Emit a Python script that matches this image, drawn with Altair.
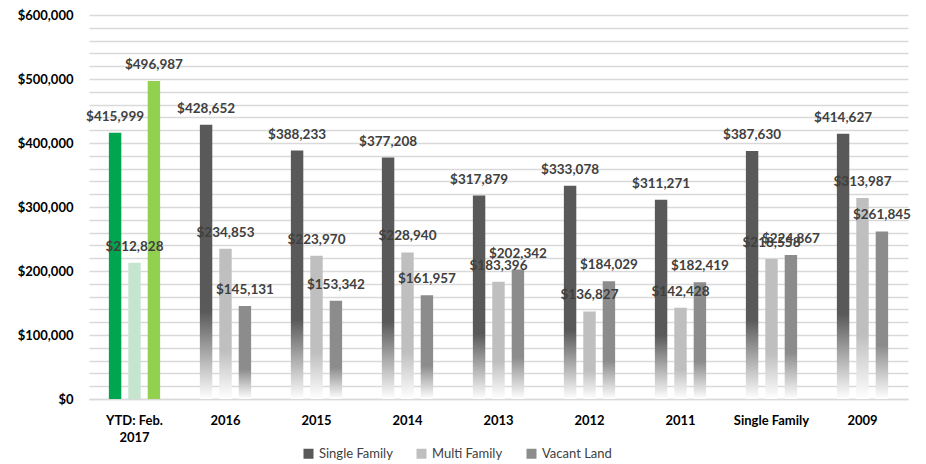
import altair as alt
import pandas as pd

categories = ["YTD: Feb. 2017", "2016", "2015", "2014", "2013", "2012", "2011", "Single Family", "2009"]
series = ["Single Family", "Multi Family", "Vacant Land"]
single_family = [415999, 428652, 388233, 377208, 317879, 333078, 311271, 387630, 414627]
multi_family = [212828, 234853, 223970, 228940, 183396, 136827, 142428, 218558, 313987]
vacant_land = [496987, 145131, 153342, 161957, 202342, 184029, 182419, 224867, 261845]

gray_colors = ["#595959", "#BFBFBF", "#8C8C8C"]
green_colors = ["#00A54F", "#C6E5CE", "#92D050"]

rows = []
for vals, s in zip([single_family, multi_family, vacant_land], series):
    for c, v in zip(categories, vals):
        rows.append({"category": c, "series": s, "value": v})
df = pd.DataFrame(rows)

FONT = "Lato"
ytd = categories[0]

x_enc = alt.X(
    "category:N", sort=categories,
    scale=alt.Scale(paddingInner=0.36, paddingOuter=0.18),
    axis=alt.Axis(
        title=None, labelAngle=0, ticks=False, domainColor="#D9D9D9", domainWidth=1.5,
        labelFont=FONT, labelFontWeight="bold", labelFontSize=13, labelColor="#000000",
        labelPadding=15, labelLineHeight=17,
        labelExpr="datum.value == '" + ytd + "' ? ['YTD: Feb.', '2017'] : datum.label",
    ),
)
xo_enc = alt.XOffset(
    "series:N", sort=series,
    scale=alt.Scale(domain=series, paddingInner=0.36, paddingOuter=0.18),
)
y_enc = alt.Y(
    "value:Q",
    scale=alt.Scale(domain=[0, 600000], nice=False),
    axis=alt.Axis(
        title=None, values=list(range(0, 600001, 20000)), domain=False, ticks=False,
        gridColor="#D9D9D9", gridWidth=1.5,
        labelExpr="datum.value % 100000 == 0 ? format(datum.value, '$,') : ''",
        labelFont=FONT, labelFontWeight="bold", labelFontSize=13, labelColor="#000000",
        labelPadding=16,
    ),
)

base = alt.Chart(df).encode(x=x_enc, xOffset=xo_enc, y=y_enc)

legend_layer = base.mark_bar(opacity=0).encode(
    color=alt.Color(
        "series:N", sort=series,
        scale=alt.Scale(domain=series, range=gray_colors),
        legend=alt.Legend(
            title=None, orient="none", legendX=213, legendY=432, direction="horizontal",
            symbolType="square", symbolSize=100, symbolOpacity=1, symbolStrokeWidth=0,
            labelFont=FONT, labelFontSize=13, labelColor="#404040", columnPadding=22,
            labelOffset=4,
        ),
    )
)

layers = [legend_layer]
for s, gc, grc in zip(series, gray_colors, green_colors):
    grad = {
        "gradient": "linear", "x1": 0, "x2": 0, "y1": 0, "y2": 1,
        "stops": [
            {"offset": 0, "color": gc},
            {"offset": 0.68, "color": gc},
            {"offset": 1, "color": "#FFFFFF"},
        ],
    }
    layers.append(
        base.transform_filter(
            "datum.category != '" + ytd + "' && datum.series == '" + s + "'"
        ).mark_bar(color=grad)
    )
    layers.append(
        base.transform_filter(
            "datum.category == '" + ytd + "' && datum.series == '" + s + "'"
        ).mark_bar(color=grc)
    )

labels = base.mark_text(
    dy=-9, baseline="bottom", font=FONT, fontWeight="bold", fontSize=13.5, color="#404040"
).encode(text=alt.Text("value:Q", format="$,"))
layers.append(labels)

chart = alt.layer(*layers).properties(
    width=819, height=384, padding={"left": 9, "top": 1, "right": 5, "bottom": 0}
).configure_view(stroke=None)

chart.save("out.html", embed_options={"renderer": "svg", "actions": False})
